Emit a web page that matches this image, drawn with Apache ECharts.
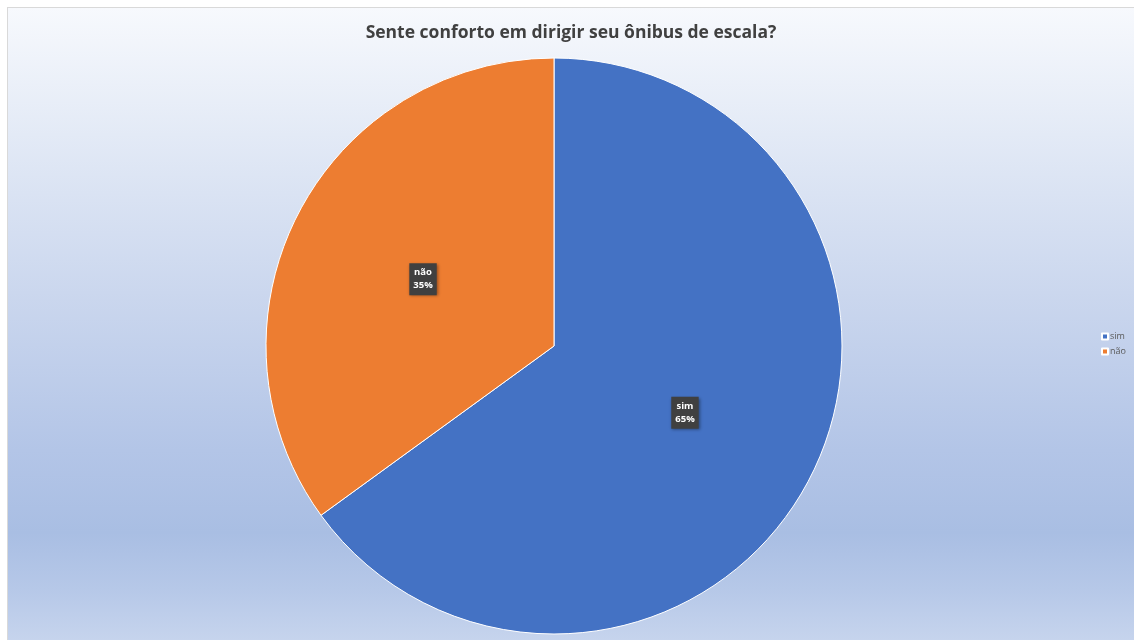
<!DOCTYPE html>
<html>
<head>
<meta charset="utf-8">
<script src="https://cdn.jsdelivr.net/npm/echarts@6/dist/echarts.min.js"></script>
<style>
html,body{margin:0;padding:0;background:#ffffff;}
#wrap{position:absolute;left:0;top:0;width:1134px;height:640px;background:#ffffff;}
#chart{position:absolute;left:7px;top:7px;width:1127px;height:633px;border-left:1px solid #d9d9d9;border-top:1px solid #d9d9d9;box-sizing:border-box;
background:linear-gradient(to bottom,#f7f9fd 0%,#e3eaf6 20%,#cbd7ee 45%,#b3c5e7 70%,#a9bee3 83%,#b6c8e8 92%,#c6d4ed 100%);}
</style>
</head>
<body>
<div id="wrap"><div id="chart"></div></div>
<script>
var titleText = 'Sente conforto em dirigir seu ônibus de escala?';
var categories = ['sim', 'não'];
var values = [65, 35];
var colors = ['#4472c4', '#ed7d31'];

var chart = echarts.init(document.getElementById('chart'), null, {renderer: 'canvas'});
var data = categories.map(function (c, i) {
  return {name: c, value: values[i], itemStyle: {color: colors[i]}};
});
chart.setOption({
  backgroundColor: 'transparent',
  animation: false,
  title: {
    text: titleText,
    left: 'center',
    top: 11,
    textStyle: {fontFamily: 'Open Sans, Noto Sans, sans-serif', fontSize: 17.5, fontWeight: 'bold', color: '#404040'}
  },
  legend: {
    orient: 'vertical',
    left: 1088,
    top: 319,
    itemWidth: 6,
    itemHeight: 6,
    itemGap: 6,
    icon: 'rect',
    data: categories,
    textStyle: {fontFamily: 'Open Sans, Noto Sans, sans-serif', fontSize: 9, color: '#595959', padding: [0, 0, 0, -3]}
  },
  series: [{
    type: 'pie',
    center: [546, 338],
    radius: [0, 288],
    startAngle: 90,
    clockwise: true,
    data: data,
    itemStyle: {borderColor: '#ffffff', borderWidth: 1},
    label: {
      show: true,
      position: 'inside',
      formatter: function (p) { return p.name + '\n' + Math.round(p.percent) + '%'; },
      fontFamily: 'Open Sans, Noto Sans, sans-serif',
      fontSize: 9.5,
      fontWeight: 'bold',
      lineHeight: 13,
      color: '#ffffff',
      backgroundColor: '#404040',
      padding: [3, 4, 3, 4],
      shadowColor: 'rgba(0,0,0,0.4)',
      shadowBlur: 3,
      shadowOffsetX: 1,
      shadowOffsetY: 1
    },
    labelLine: {show: false},
    emphasis: {disabled: true}
  }]
});
</script>
</body>
</html>
